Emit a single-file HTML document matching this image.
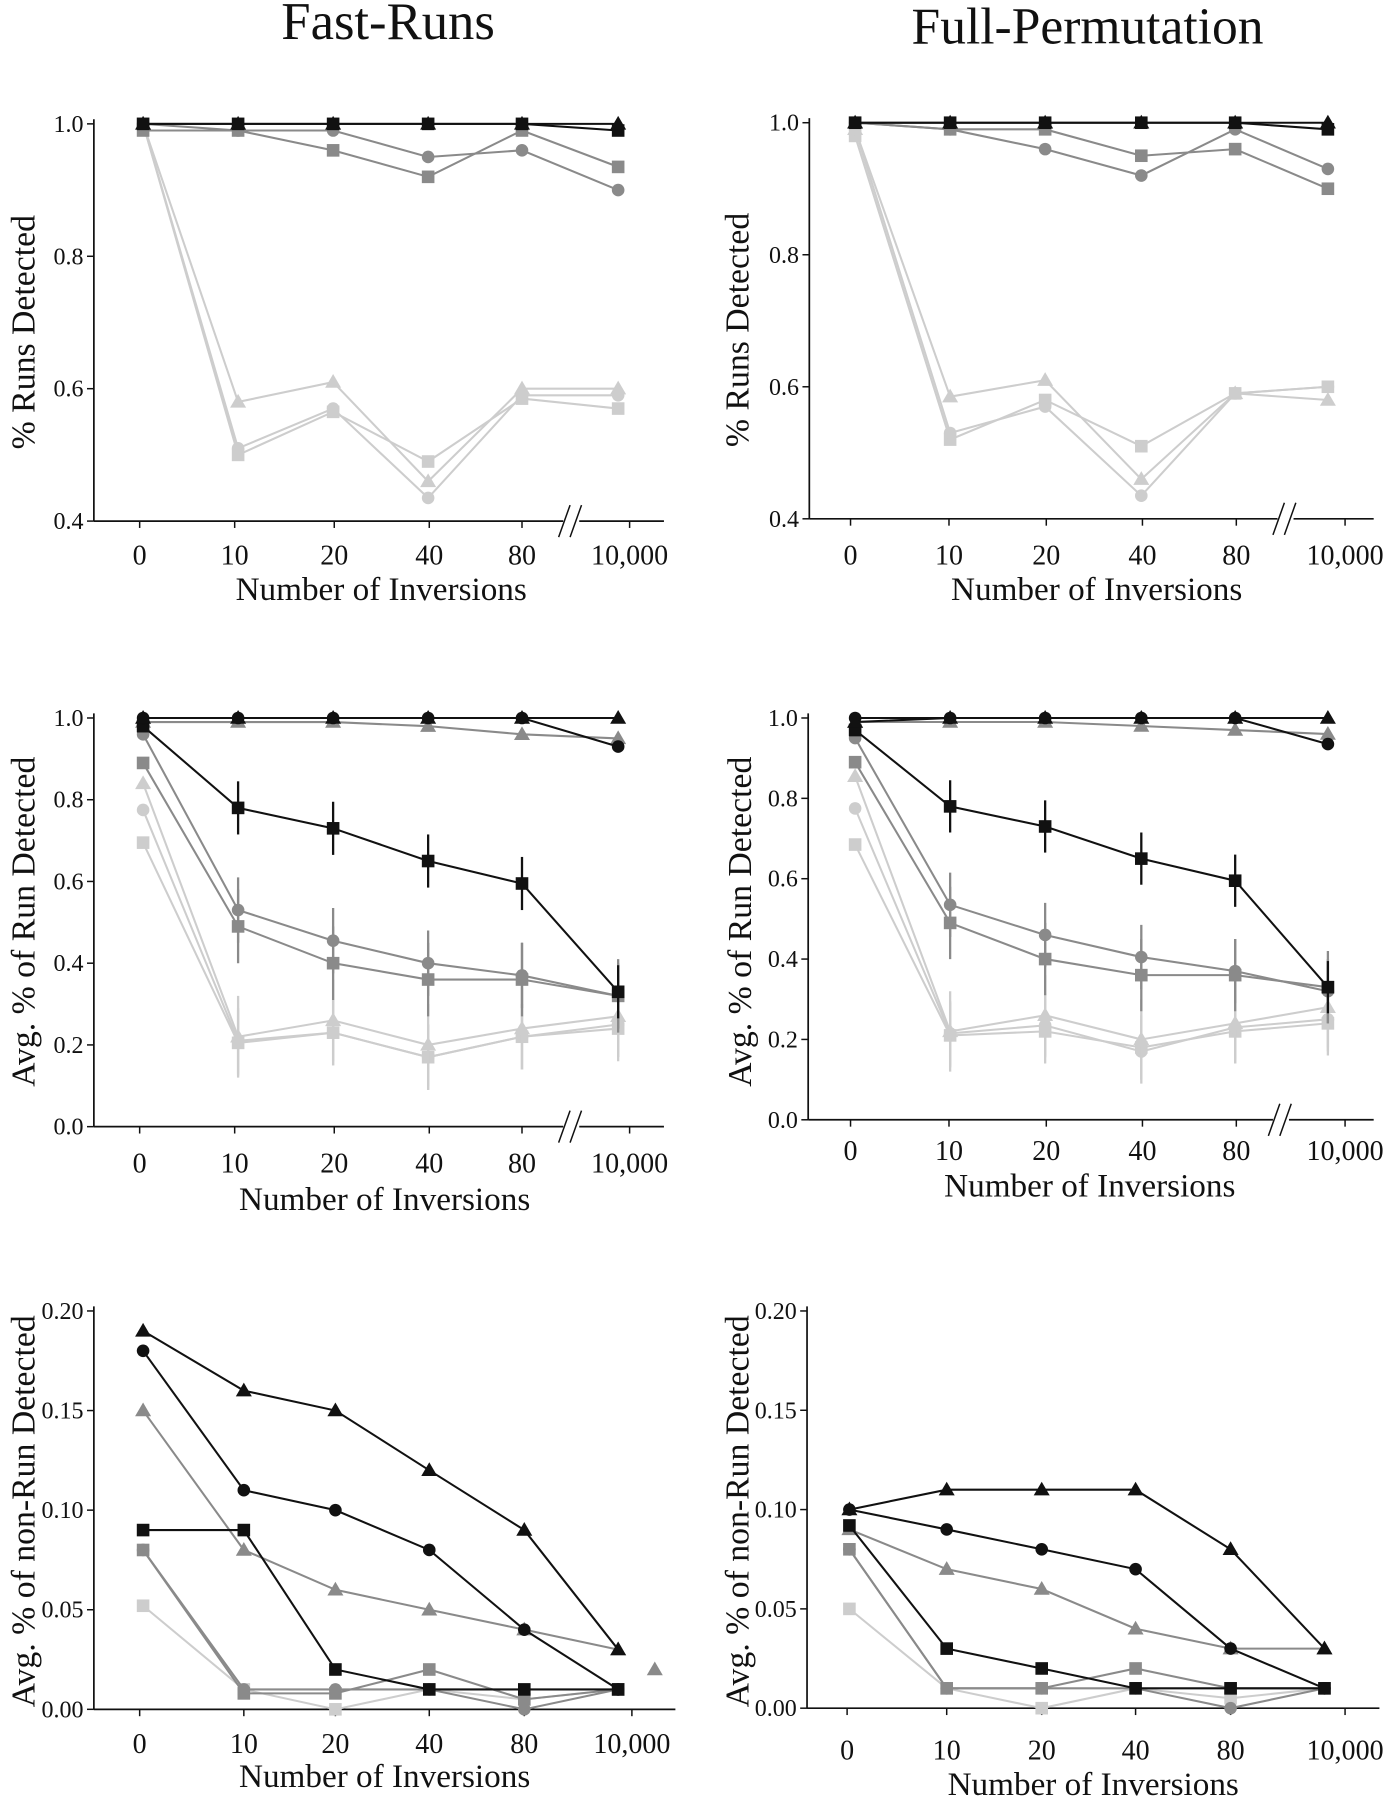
<!DOCTYPE html>
<html><head><meta charset="utf-8"><style>
html,body{margin:0;padding:0;background:#fff}
svg{display:block}
text{font-family:"Liberation Serif",serif;fill:#111}
</style></head><body>
<svg id="fig" width="1392" height="1800" viewBox="0 0 1216 1572" xmlns="http://www.w3.org/2000/svg">
<text x="339" y="34" font-size="46" text-anchor="middle">Fast-Runs</text>
<text x="950" y="38" font-size="45" text-anchor="middle">Full-Permutation</text>
</svg>
<script>
const categories=["0","10","20","40","80","10,000"];
// Panel 1 (Fast-Runs, % Runs Detected)
const p1BlackTri=[1,1,1,1,1,1];
const p1BlackSq=[1,1,1,1,1,0.99];
const p1GrayCirc=[1,0.99,0.99,0.95,0.96,0.90];
const p1GraySq=[0.99,0.99,0.96,0.92,0.99,0.935];
const p1LightTri=[1,0.58,0.61,0.46,0.60,0.60];
const p1LightCirc=[1,0.51,0.57,0.435,0.59,0.59];
const p1LightSq=[1,0.50,0.565,0.49,0.585,0.57];
// Panel 2 (Full-Permutation, % Runs Detected)
const p2BlackTri=[1,1,1,1,1,1];
const p2BlackSq=[1,1,1,1,1,0.99];
const p2GrayCirc=[1,0.99,0.96,0.92,0.99,0.93];
const p2GraySq=[1,0.99,0.99,0.95,0.96,0.90];
const p2LightTri=[0.99,0.585,0.61,0.46,0.59,0.58];
const p2LightCirc=[0.99,0.53,0.57,0.435,0.59,0.60];
const p2LightSq=[0.98,0.52,0.58,0.51,0.59,0.60];
// Panel 3 (Fast-Runs, Avg % of Run Detected)
const p3BlackTri=[1,1,1,1,1,1];
const p3BlackCirc=[1,1,1,1,1,0.93];
const p3GrayTri=[0.99,0.99,0.99,0.98,0.96,0.95];
const p3BlackSq=[0.98,0.78,0.73,0.65,0.595,0.33];
const p3GrayCirc=[0.96,0.53,0.455,0.40,0.37,0.32];
const p3GraySq=[0.89,0.49,0.40,0.36,0.36,0.32];
const p3LightTri=[0.84,0.22,0.26,0.20,0.24,0.27];
const p3LightCirc=[0.775,0.21,0.23,0.17,0.22,0.25];
const p3LightSq=[0.695,0.205,0.23,0.17,0.22,0.24];
// Panel 4 (Full-Permutation, Avg % of Run Detected)
const p4BlackTri=[0.99,1,1,1,1,1];
const p4BlackCirc=[1,1,1,1,1,0.935];
const p4GrayTri=[0.99,0.99,0.99,0.98,0.97,0.96];
const p4BlackSq=[0.97,0.78,0.73,0.65,0.595,0.33];
const p4GrayCirc=[0.95,0.535,0.46,0.405,0.37,0.32];
const p4GraySq=[0.89,0.49,0.40,0.36,0.36,0.33];
const p4LightTri=[0.855,0.22,0.26,0.20,0.24,0.28];
const p4LightCirc=[0.775,0.215,0.235,0.17,0.23,0.25];
const p4LightSq=[0.685,0.21,0.22,0.18,0.22,0.24];
// Panel 5 (Fast-Runs, non-Run)
const p5BlackTri=[0.19,0.16,0.15,0.12,0.09,0.03];
const p5BlackCirc=[0.18,0.11,0.10,0.08,0.04,0.01];
const p5GrayTri=[0.15,0.08,0.06,0.05,0.04,0.03];
const p5BlackSq=[0.09,0.09,0.02,0.01,0.01,0.01];
const p5GraySq=[0.08,0.008,0.008,0.02,0.005,0.01];
const p5GrayCirc=[0.08,0.01,0.01,0.01,0.0,0.01];
const p5LightSq=[0.052,0.01,0.0,0.01,0.005,0.01];
// Panel 6 (Full-Permutation, non-Run)
const p6BlackTri=[0.10,0.11,0.11,0.11,0.08,0.03];
const p6BlackCirc=[0.10,0.09,0.08,0.07,0.03,0.01];
const p6GrayTri=[0.09,0.07,0.06,0.04,0.03,0.03];
const p6BlackSq=[0.092,0.03,0.02,0.01,0.01,0.01];
const p6GraySq=[0.08,0.01,0.01,0.02,0.01,0.01];
const p6GrayCirc=[0.08,0.01,0.01,0.01,0.0,0.01];
const p6LightSq=[0.05,0.01,0.0,0.01,0.005,0.01];
const ticksRuns=["0.4","0.6","0.8","1.0"];
const ticksAvg=["0.0","0.2","0.4","0.6","0.8","1.0"];
const ticksNon=["0.00","0.05","0.10","0.15","0.20"];

const NS="http://www.w3.org/2000/svg";
const svg=document.getElementById("fig");
function mk(tag,attrs,parent){const e=document.createElementNS(NS,tag);for(const k in attrs)e.setAttribute(k,attrs[k]);(parent||svg).appendChild(e);return e;}
const BLK="#111",GRY="#8a8a8a",LGT="#cdcdcd";

function panel(cfg){
  const g=mk("g",{});
  
  
  const y=v=>cfg.y0+(v-cfg.vmin)/(cfg.vmax-cfg.vmin)*(cfg.y1-cfg.y0);
  const x=i=>cfg.xs[i];
  const ya=mk("line",{x1:cfg.ax,y1:cfg.y1-4,x2:cfg.ax,y2:cfg.y0,stroke:"#111","stroke-width":1.5},g);
  
  
  if(cfg.brk){
    mk("line",{x1:cfg.ax,y1:cfg.y0,x2:cfg.brk-6,y2:cfg.y0,stroke:"#111","stroke-width":1.5},g);
    mk("line",{x1:cfg.brk+8,y1:cfg.y0,x2:cfg.xend,y2:cfg.y0,stroke:"#111","stroke-width":1.5},g);
    const b=mk("path",{d:`M${cfg.brk-10},${cfg.y0+14}L${cfg.brk},${cfg.y0-14}M${cfg.brk},${cfg.y0+14}L${cfg.brk+10},${cfg.y0-14}`,stroke:"#111","stroke-width":1.3,fill:"none"},g);
    
    
  } else {
    mk("line",{x1:cfg.ax,y1:cfg.y0,x2:cfg.xend,y2:cfg.y0,stroke:"#111","stroke-width":1.5},g);
  }
  cfg.ticks.forEach(t=>{
    const v=parseFloat(t),yy=y(v);
    mk("line",{x1:cfg.ax-6,y1:yy,x2:cfg.ax,y2:yy,stroke:"#111","stroke-width":1.3},g);
    const tx=mk("text",{x:cfg.ax-9,y:yy+7,"font-size":21,"text-anchor":"end"},g);
    tx.textContent=t;
    
    
  });
  categories.forEach((c,i)=>{
    const xx=cfg.xl[i];
    mk("line",{x1:xx,y1:cfg.y0,x2:xx,y2:cfg.y0+6,stroke:"#111","stroke-width":1.3},g);
    const tx=mk("text",{x:xx,y:cfg.ty,"font-size":24.5,"text-anchor":"middle"},g);
    tx.textContent=c;
    
    
  });
  const xt=mk("text",{x:cfg.xlx,y:cfg.xly,"font-size":29,"text-anchor":"middle"},g);
  xt.textContent="Number of Inversions";
  
  
  const yt=mk("text",{x:0,y:0,"font-size":29.5,"text-anchor":"middle",transform:`translate(${cfg.ylx},${cfg.yly}) rotate(-90)`},g);
  yt.textContent=cfg.ytitle;
  
  
  cfg.series.forEach(s=>{
    const sg=mk("g",{},g);
    
    
    const pts=s.v.map((v,i)=>[x(i),y(v)]);
    if(s.err){
      s.v.forEach((v,i)=>{ if(i===0)return;
        mk("line",{x1:x(i),y1:y(v-s.err),x2:x(i),y2:y(v+s.err),stroke:s.c,"stroke-width":2},sg);});
    }
    mk("polyline",{points:pts.map(p=>p.join(",")).join(" "),fill:"none",stroke:s.c,"stroke-width":1.8},sg);
    pts.forEach(([px,py])=>{
      let m;
      if(s.m==="tri") m=mk("polygon",{points:`${px},${py-7} ${px-7},${py+5} ${px+7},${py+5}`,fill:s.c},sg);
      else if(s.m==="sq") m=mk("rect",{x:px-5.5,y:py-5.5,width:11,height:11,fill:s.c},sg);
      else m=mk("circle",{cx:px,cy:py,r:5.5,fill:s.c},sg);
      
      
    });
  });
  return y;
}

const xsL=[125,208,291,374,456,540], xlL=[122,205,292,375,456,550];
const xsR=[747,830,913,997,1079,1160], xlR=[743,829,914,998,1080,1175];

panel({name:"panel-fast-runs-runs-detected",ax:82,y0:455,y1:108,vmin:0.4,vmax:1.0,xs:xsL,xl:xlL,brk:498,xend:580,ty:493,xlx:333,xly:524,ylx:30,yly:290,ticks:ticksRuns,ytitle:"% Runs Detected",
 series:[{name:"light-square",v:p1LightSq,c:LGT,m:"sq"},{name:"light-circle",v:p1LightCirc,c:LGT,m:"circ"},{name:"light-triangle",v:p1LightTri,c:LGT,m:"tri"},
 {name:"gray-square",v:p1GraySq,c:GRY,m:"sq"},{name:"gray-circle",v:p1GrayCirc,c:GRY,m:"circ"},{name:"black-square",v:p1BlackSq,c:BLK,m:"sq"},{name:"black-triangle",v:p1BlackTri,c:BLK,m:"tri"}]});

panel({name:"panel-full-perm-runs-detected",ax:707,y0:453,y1:107,vmin:0.4,vmax:1.0,xs:xsR,xl:xlR,brk:1122,xend:1200,ty:493,xlx:958,xly:524,ylx:654,yly:288,ticks:ticksRuns,ytitle:"% Runs Detected",
 series:[{name:"light-square",v:p2LightSq,c:LGT,m:"sq"},{name:"light-circle",v:p2LightCirc,c:LGT,m:"circ"},{name:"light-triangle",v:p2LightTri,c:LGT,m:"tri"},
 {name:"gray-square",v:p2GraySq,c:GRY,m:"sq"},{name:"gray-circle",v:p2GrayCirc,c:GRY,m:"circ"},{name:"black-square",v:p2BlackSq,c:BLK,m:"sq"},{name:"black-triangle",v:p2BlackTri,c:BLK,m:"tri"}]});

panel({name:"panel-fast-runs-avg-run",ax:82,y0:984,y1:627,vmin:0,vmax:1.0,xs:xsL,xl:xlL,brk:498,xend:580,ty:1024,xlx:336,xly:1057,ylx:30,yly:805,ticks:ticksAvg,ytitle:"Avg. % of Run Detected",
 series:[{name:"light-square",v:p3LightSq,c:LGT,m:"sq",err:0.08},{name:"light-circle",v:p3LightCirc,c:LGT,m:"circ",err:0.08},{name:"light-triangle",v:p3LightTri,c:LGT,m:"tri",err:0.1},
 {name:"gray-square",v:p3GraySq,c:GRY,m:"sq",err:0.09},{name:"gray-circle",v:p3GrayCirc,c:GRY,m:"circ",err:0.08},{name:"gray-triangle",v:p3GrayTri,c:GRY,m:"tri"},
 {name:"black-square",v:p3BlackSq,c:BLK,m:"sq",err:0.065},{name:"black-circle",v:p3BlackCirc,c:BLK,m:"circ"},{name:"black-triangle",v:p3BlackTri,c:BLK,m:"tri"}]});

panel({name:"panel-full-perm-avg-run",ax:706,y0:978,y1:627,vmin:0,vmax:1.0,xs:xsR,xl:xlR,brk:1118,xend:1200,ty:1013,xlx:952,xly:1045,ylx:656,yly:805,ticks:ticksAvg,ytitle:"Avg. % of Run Detected",
 series:[{name:"light-square",v:p4LightSq,c:LGT,m:"sq",err:0.08},{name:"light-circle",v:p4LightCirc,c:LGT,m:"circ",err:0.08},{name:"light-triangle",v:p4LightTri,c:LGT,m:"tri",err:0.1},
 {name:"gray-square",v:p4GraySq,c:GRY,m:"sq",err:0.09},{name:"gray-circle",v:p4GrayCirc,c:GRY,m:"circ",err:0.08},{name:"gray-triangle",v:p4GrayTri,c:GRY,m:"tri"},
 {name:"black-square",v:p4BlackSq,c:BLK,m:"sq",err:0.065},{name:"black-circle",v:p4BlackCirc,c:BLK,m:"circ"},{name:"black-triangle",v:p4BlackTri,c:BLK,m:"tri"}]});

const xs5=[125,213,293,375,458,540], xs6=[742,827,910,992,1075,1157];
const y5=panel({name:"panel-fast-runs-non-run",ax:82,y0:1493,y1:1145,vmin:0,vmax:0.2,xs:xs5,xl:[122,213,293,375,458,552],brk:0,xend:590,ty:1531,xlx:336,xly:1561,ylx:30,yly:1320,ticks:ticksNon,ytitle:"Avg. % of non-Run Detected",
 series:[{name:"light-square",v:p5LightSq,c:LGT,m:"sq"},{name:"gray-circle",v:p5GrayCirc,c:GRY,m:"circ"},{name:"gray-square",v:p5GraySq,c:GRY,m:"sq"},{name:"gray-triangle",v:p5GrayTri,c:GRY,m:"tri"},
 {name:"black-square",v:p5BlackSq,c:BLK,m:"sq"},{name:"black-circle",v:p5BlackCirc,c:BLK,m:"circ"},{name:"black-triangle",v:p5BlackTri,c:BLK,m:"tri"}]});
const extra=mk("polygon",{points:`572,${y5(0.02)-7} 565,${y5(0.02)+5} 579,${y5(0.02)+5}`,fill:GRY});



panel({name:"panel-full-perm-non-run",ax:705,y0:1492,y1:1145,vmin:0,vmax:0.2,xs:xs6,xl:[740,827,910,992,1075,1175],brk:0,xend:1205,ty:1537,xlx:955,xly:1568,ylx:654,yly:1320,ticks:ticksNon,ytitle:"Avg. % of non-Run Detected",
 series:[{name:"light-square",v:p6LightSq,c:LGT,m:"sq"},{name:"gray-circle",v:p6GrayCirc,c:GRY,m:"circ"},{name:"gray-square",v:p6GraySq,c:GRY,m:"sq"},{name:"gray-triangle",v:p6GrayTri,c:GRY,m:"tri"},
 {name:"black-square",v:p6BlackSq,c:BLK,m:"sq"},{name:"black-circle",v:p6BlackCirc,c:BLK,m:"circ"},{name:"black-triangle",v:p6BlackTri,c:BLK,m:"tri"}]});
</script>
</body></html>
